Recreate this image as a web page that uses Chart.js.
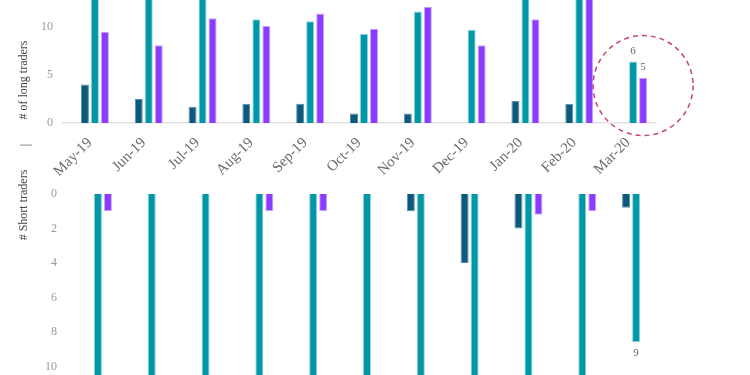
<!DOCTYPE html>
<html>
<head>
<meta charset="utf-8">
<script src="https://cdn.jsdelivr.net/npm/chart.js@4/dist/chart.umd.min.js"></script>
<style>
    body { margin: 0; background: #fff; }
    #wrap { position: relative; width: 750px; height: 375px; overflow: hidden; }
    #longChart { position: absolute; left: 0; top: 0; }
    #shortChart { position: absolute; left: 0; top: 180px; }
    .vtitle {
        position: absolute;
        transform: translate(-50%, -50%) rotate(-90deg);
        white-space: nowrap;
        font: 12px 'Liberation Serif', serif;
        color: #444;
    }
</style>
</head>
<body>
<div id="wrap">
    <canvas id="longChart" width="750" height="180"></canvas>
    <canvas id="shortChart" width="750" height="195"></canvas>
    <div class="vtitle" style="left:23px; top:80px;"># of long traders</div>
    <div class="vtitle" style="left:25px; top:145px;">|</div>
    <div class="vtitle" style="left:23px; top:205px;"># Short traders</div>
</div>
<script>
const months = ['May-19', 'Jun-19', 'Jul-19', 'Aug-19', 'Sep-19', 'Oct-19', 'Nov-19', 'Dec-19', 'Jan-20', 'Feb-20', 'Mar-20'];

// long side (top panel)
const longDark   = [4, 2.5, 1.7, 2, 2, 1, 1, 0, 2.3, 2, 0];
const longTeal   = [15, 16, 14, 10.8, 10.6, 9.3, 11.6, 9.7, 15, 17, 6.4];
const longPurple = [9.5, 8.1, 10.9, 10.1, 11.4, 9.8, 12.1, 8.1, 10.8, 14, 4.7];
const longTicks  = [0, 5, 10];

// short side (bottom panel)
const shortDark   = [0, 0, 0, 0, 0, 0, 1, 4, 2, 0, 0.8];
const shortTeal   = [13, 12, 12, 13, 12, 14, 13, 12, 13, 14, 8.6];
const shortPurple = [1, 0, 0, 1, 1, 0, 0, 0, 1.2, 1, 0];
const shortTicks  = [0, 2, 4, 6, 8, 10];

const COLORS = {
    dark:   { bg: '#0b5a7e', border: '#5b8ea8' },
    teal:   { bg: '#0097a7', border: '#8ad6de' },
    purple: { bg: '#8b3dff', border: '#c8a6ff' }
};

const serif = "'Liberation Serif', serif";

function makeDatasets(dark, teal, purple) {
    const base = { borderWidth: 1, barPercentage: 0.8, categoryPercentage: 0.744 };
    return [
        { ...base, label: 'spacer', data: [] },
        { ...base, label: 'dark', data: dark, backgroundColor: COLORS.dark.bg, borderColor: COLORS.dark.border },
        { ...base, label: 'teal', data: teal, backgroundColor: COLORS.teal.bg, borderColor: COLORS.teal.border },
        { ...base, label: 'purple', data: purple, backgroundColor: COLORS.purple.bg, borderColor: COLORS.purple.border }
    ];
}

// kill the automatic label padding so the plot area fills the box exactly
function noPad(s) {
    s.paddingTop = 0;
    s.paddingBottom = 0;
    s.paddingLeft = 0;
    s.paddingRight = 0;
}

// value labels on a few bars
const valueLabels = {
    id: 'valueLabels',
    afterDatasetsDraw(chart, args, opts) {
        const ctx = chart.ctx;
        ctx.save();
        ctx.font = '11px ' + serif;
        ctx.fillStyle = '#666';
        ctx.textAlign = 'center';
        (opts.items || []).forEach(([ds, idx]) => {
            const bar = chart.getDatasetMeta(ds).data[idx];
            const val = chart.data.datasets[ds].data[idx];
            const below = bar.y > bar.base;
            ctx.textBaseline = below ? 'top' : 'bottom';
            ctx.fillText(Math.round(val), bar.x, below ? bar.y + 5 : bar.y - 5);
        });
        ctx.restore();
    }
};

// dashed circle highlighting the last month
const highlightCircle = {
    id: 'highlightCircle',
    afterDatasetsDraw(chart, args, opts) {
        if (!opts.index && opts.index !== 0) return;
        const { ctx, scales: { x, y } } = chart;
        const cx = x.getPixelForValue(opts.index) + 15;
        const cy = y.getPixelForValue(opts.value);
        ctx.save();
        ctx.beginPath();
        ctx.setLineDash([5, 4]);
        ctx.lineWidth = 1.5;
        ctx.strokeStyle = '#c8417d';
        ctx.arc(cx, cy, 50, 0, Math.PI * 2);
        ctx.stroke();
        ctx.restore();
    }
};

Chart.register(valueLabels, highlightCircle);

new Chart(document.getElementById('longChart'), {
    type: 'bar',
    data: { labels: months, datasets: makeDatasets(longDark, longTeal, longPurple) },
    options: {
        responsive: false,
        animation: false,
        layout: { padding: { top: 0, right: 95, left: 0, bottom: 0 } },
        plugins: {
            legend: { display: false },
            tooltip: { enabled: false },
            valueLabels: { items: [[2, 10], [3, 10]] },
            highlightCircle: { index: 10, value: 3.9 }
        },
        scales: {
            x: {
                grid: { display: false, drawTicks: false },
                border: { display: true, color: '#e2e2e2', width: 1.5 },
                ticks: {
                    minRotation: 45, maxRotation: 45, padding: 11,
                    color: '#6b6b6b', font: { family: serif, size: 15 }
                },
                afterFit: s => { noPad(s); s.height = 57; }
            },
            y: {
                min: 0, max: 12.8,
                grid: { display: false, drawTicks: false },
                border: { display: false },
                afterBuildTicks: s => { s.ticks = longTicks.map(v => ({ value: v })); },
                ticks: { padding: 10, color: '#9a9a9a', font: { family: serif, size: 12 } },
                afterFit: s => { noPad(s); s.width = 63; }
            }
        }
    }
});

new Chart(document.getElementById('shortChart'), {
    type: 'bar',
    data: { labels: months, datasets: makeDatasets(shortDark, shortTeal, shortPurple) },
    options: {
        responsive: false,
        animation: false,
        layout: { padding: { top: 14, right: 92, left: 0, bottom: 0 } },
        plugins: {
            legend: { display: false },
            tooltip: { enabled: false },
            valueLabels: { items: [[2, 10]] },
            highlightCircle: {}
        },
        scales: {
            x: { display: false },
            y: {
                min: 0, max: 10.5, reverse: true,
                grid: { display: false, drawTicks: false },
                border: { display: false },
                afterBuildTicks: s => { s.ticks = shortTicks.map(v => ({ value: v })); },
                ticks: { padding: 9, color: '#9a9a9a', font: { family: serif, size: 12 } },
                afterFit: s => { noPad(s); s.width = 66; }
            }
        }
    }
});
</script>
</body>
</html>
